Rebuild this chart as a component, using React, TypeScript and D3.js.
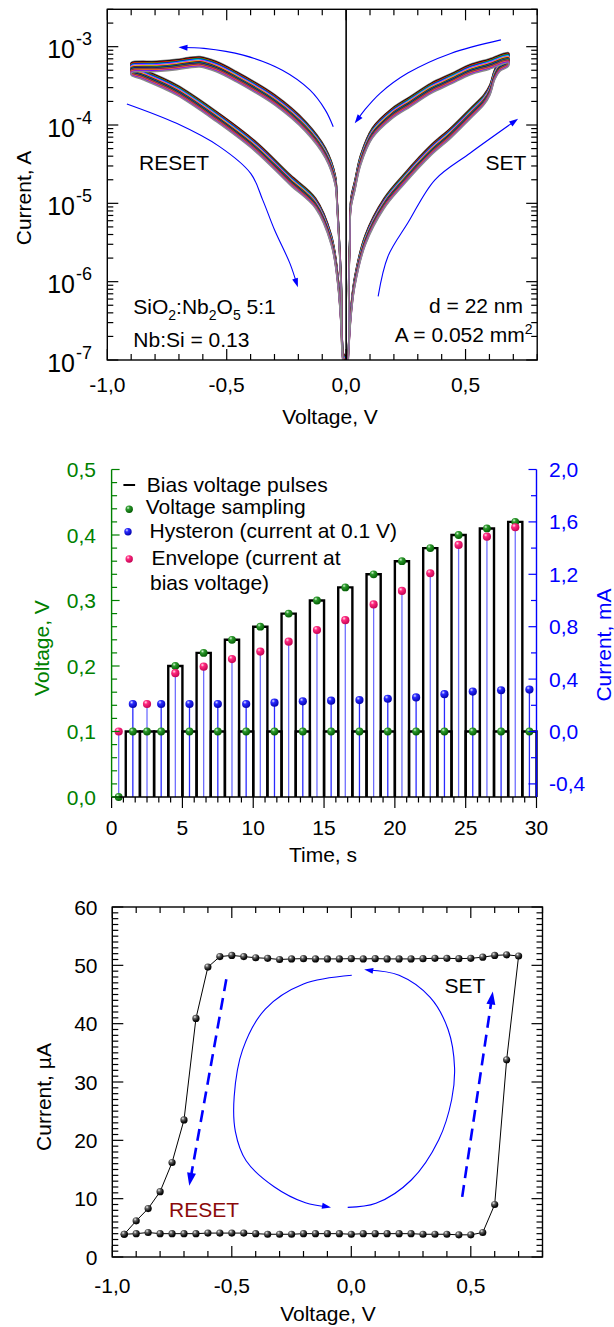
import React from 'react';
import * as d3 from 'd3';

const FONT = '"Liberation Sans", Arial, Helvetica, sans-serif';

// ---------------- Panel 1: resistive switching I–V loops (log current) ----------------
const setLowV = [0.008, 0.02, 0.036, 0.08, 0.159, 0.24, 0.356, 0.438, 0.52, 0.577, 0.602, 0.622, 0.643, 0.679];
const setLowI = [1e-7, 4e-7, 1e-6, 3.4e-6, 1e-5, 2e-5, 4.8e-5, 7.9e-5, 1.4e-4, 2.1e-4, 2.8e-4, 4.4e-4, 5.6e-4, 6.5e-4];
const setHighV = [0.679, 0.6, 0.52, 0.44, 0.356, 0.27, 0.192, 0.11, 0.061, 0.036, 0.02, 0.015, 0.011, 0.003];
const setHighI = [7.2e-4, 6.0e-4, 5.1e-4, 3.9e-4, 2.95e-4, 2.0e-4, 1.4e-4, 7.9e-5, 3.6e-5, 1.66e-5, 1e-5, 3e-6, 1e-6, 1e-7];
const resetHighV = [-0.008, -0.021, -0.038, -0.046, -0.087, -0.169, -0.3, -0.464, -0.546, -0.612, -0.661, -0.71, -0.792, -0.899];
const resetHighI = [1e-7, 1e-6, 1e-5, 2e-5, 4.4e-5, 9.5e-5, 2.1e-4, 4.2e-4, 5.6e-4, 6.4e-4, 6.2e-4, 5.9e-4, 5.6e-4, 5.4e-4];
const resetLowV = [-0.899, -0.85, -0.71, -0.546, -0.382, -0.235, -0.128, -0.062, -0.034, -0.013];
const resetLowI = [5.0e-4, 4.4e-4, 2.8e-4, 1.3e-4, 5.4e-5, 2e-5, 1e-5, 3.4e-6, 1e-6, 1e-7];
// estimated spread of the individual cycles around the mean loop
const cycleFactors = [1.17, 1.145, 1.12, 1.1, 1.08, 1.06, 1.04, 1.02, 1.0, 0.98, 0.96, 0.94, 0.92, 0.9, 0.88, 0.86];
const cycleColors = ['#7f7f7f', '#000000', '#ff0000', '#00b000', '#0000ff', '#00e0e0', '#ff00ff', '#e0e000',
  '#800000', '#008080', '#000080', '#808000', '#800080', '#ff8000', '#8000ff', '#8a8a8a'];
const p1XTicks = [-1, -0.5, 0, 0.5];
const p1XTickLabels = ['-1,0', '-0,5', '0,0', '0,5'];
const p1YDecades = [-7, -6, -5, -4, -3];
// annotation arrows (V, I)
const arrTopLeftV = [-0.054, -0.087, -0.152, -0.267, -0.431, -0.595, -0.702];
const arrTopLeftI = [9.5e-5, 1.55e-4, 2.8e-4, 5.0e-4, 7.8e-4, 9.5e-4, 9.8e-4];
const arrTopRightV = [0.648, 0.438, 0.258, 0.142, 0.077, 0.036];
const arrTopRightI = [1.22e-3, 8.2e-4, 4.6e-4, 2.54e-4, 1.55e-4, 1.05e-4];
const arrBotLeftV = [-0.918, -0.71, -0.53, -0.399, -0.349, -0.3, -0.235, -0.202];
const arrBotLeftI = [1.86e-4, 1.05e-4, 5.3e-5, 2.4e-5, 1.1e-5, 4.6e-6, 1.7e-6, 8.5e-7];
const arrBotRightV = [0.134, 0.175, 0.258, 0.372, 0.52, 0.72];
const arrBotRightI = [6.5e-7, 2.1e-6, 5.6e-6, 2.0e-5, 4.4e-5, 1.2e-4];

// ---------------- Panel 2: pulse programme ----------------
const sampleT = [0.5, 1.5, 2.5, 3.5, 4.5, 5.5, 6.5, 7.5, 8.5, 9.5, 10.5, 11.5, 12.5, 13.5, 14.5,
  15.5, 16.5, 17.5, 18.5, 19.5, 20.5, 21.5, 22.5, 23.5, 24.5, 25.5, 26.5, 27.5, 28.5, 29.5];
const sampleV = [0, 0.1, 0.1, 0.1, 0.2, 0.1, 0.22, 0.1, 0.24, 0.1, 0.26, 0.1, 0.28, 0.1, 0.3,
  0.1, 0.32, 0.1, 0.34, 0.1, 0.36, 0.1, 0.38, 0.1, 0.4, 0.1, 0.41, 0.1, 0.42, 0.1];
const hysteronT = [1.5, 3.5, 5.5, 7.5, 9.5, 11.5, 13.5, 15.5, 17.5, 19.5, 21.5, 23.5, 25.5, 27.5, 29.5];
const hysteronI = [0.21, 0.21, 0.21, 0.21, 0.21, 0.22, 0.23, 0.235, 0.24, 0.25, 0.26, 0.285, 0.305, 0.315, 0.32];
const envelopeT = [0.5, 2.5, 4.5, 6.5, 8.5, 10.5, 12.5, 14.5, 16.5, 18.5, 20.5, 22.5, 24.5, 26.5, 28.5];
const envelopeI = [0.0, 0.21, 0.445, 0.495, 0.553, 0.61, 0.686, 0.775, 0.85, 0.97, 1.073, 1.208, 1.424, 1.487, 1.559];
const p2XTicks = [0, 5, 10, 15, 20, 25, 30];
const p2VTicks = [0, 0.1, 0.2, 0.3, 0.4, 0.5];
const p2VTickLabels = ['0,0', '0,1', '0,2', '0,3', '0,4', '0,5'];
const p2ITicks = [-0.4, 0, 0.4, 0.8, 1.2, 1.6, 2.0];
const p2ITickLabels = ['-0,4', '0,0', '0,4', '0,8', '1,2', '1,6', '2,0'];

// ---------------- Panel 3: hysteron loop ----------------
const loopV = [-0.95, -0.9, -0.85, -0.8, -0.75, -0.7, -0.65, -0.6, -0.55, -0.5, -0.45, -0.4, -0.35, -0.3, -0.25,
  -0.2, -0.15, -0.1, -0.05, 0, 0.05, 0.1, 0.15, 0.2, 0.25, 0.3, 0.35, 0.4, 0.45, 0.5,
  0.55, 0.6, 0.65, 0.7,
  0.65, 0.6, 0.55, 0.5, 0.45, 0.4, 0.35, 0.3, 0.25, 0.2, 0.15, 0.1, 0.05, 0, -0.05, -0.1, -0.15, -0.2, -0.25,
  -0.3, -0.35, -0.4, -0.45, -0.5, -0.55,
  -0.6, -0.65, -0.7, -0.75, -0.8, -0.85, -0.9, -0.95];
const loopI = [3.9, 4.0, 4.2, 4.0, 4.0, 4.0, 4.0, 4.1, 4.1, 4.1, 4.1, 4.0, 3.9, 3.9, 3.9,
  4.0, 4.0, 4.0, 4.0, 3.9, 4.0, 4.0, 4.0, 4.0, 4.0, 3.9, 3.9, 3.9, 3.8, 3.8,
  4.2, 9.0, 33.8, 51.6,
  51.8, 51.7, 51.4, 51.2, 51.15, 51.2, 51.2, 51.15, 51.1, 51.1, 51.1, 51.15, 51.1, 51.15, 51.1, 51.1, 51.1, 51.15, 51.1,
  51.0, 51.2, 51.3, 51.5, 51.7, 51.5,
  49.7, 40.9, 23.5, 16.2, 11.2, 8.3, 6.2, 3.9];
const p3XTicks = [-1, -0.5, 0, 0.5];
const p3XTickLabels = ['-1,0', '-0,5', '0,0', '0,5'];
const p3YTicks = [0, 10, 20, 30, 40, 50, 60];
const dashLeftV = [-0.523, -0.678];
const dashLeftI = [47.6, 12.2];
const dashRightV = [0.464, 0.592];
const dashRightI = [10.3, 45.5];
const loopArrLV = [0.002, -0.2, -0.36, -0.455, -0.49, -0.485, -0.44, -0.323, -0.192, -0.085];
const loopArrLI = [48.3, 46.8, 42.5, 35.5, 27.5, 21.5, 16.5, 12.05, 9.3, 8.5];
const loopArrRV = [-0.015, 0.103, 0.251, 0.366, 0.42, 0.432, 0.405, 0.33, 0.2, 0.054];
const loopArrRI = [8.5, 9.2, 13.2, 20.1, 27.0, 32.5, 39.0, 44.5, 48.3, 49.3];

// ---------------- scales ----------------
const P1 = { l: 107.3, r: 537.2, t: 9.3, b: 360 };
const P2 = { l: 111.6, r: 536.5, t: 469.5, b: 797 };
const P3 = { l: 112.3, r: 542.5, t: 907, b: 1257 };

const x1 = d3.scaleLinear().domain([-1, 0.8]).range([P1.l, P1.r]);
const y1 = d3.scaleLog().domain([1e-7, 3e-3]).range([P1.b, P1.t]);
const x2 = d3.scaleLinear().domain([0, 30]).range([P2.l, P2.r]);
const yV = d3.scaleLinear().domain([0, 0.5]).range([P2.b, P2.t]);
const yI = d3.scaleLinear().domain([-0.5, 2.0]).range([P2.b, P2.t]);
const x3 = d3.scaleLinear().domain([-1, 0.8]).range([P3.l, P3.r]);
const y3 = d3.scaleLinear().domain([0, 60]).range([P3.b, P3.t]);

const BLUE = '#0000ff';
const GREEN = '#008000';

type Pt = [number, number];

function Arrow({ pts, color, width, head, dash, curve = true }:
  { pts: Pt[]; color: string; width: number; head: [number, number]; dash?: string; curve?: boolean }) {
  const n = pts.length;
  const [xa, ya] = pts[n - 2];
  const [xb, yb] = pts[n - 1];
  const ang = Math.atan2(yb - ya, xb - xa);
  const [L, W] = head;
  const bx = xb - L * Math.cos(ang);
  const by = yb - L * Math.sin(ang);
  const h1: Pt = [bx + W * Math.sin(ang), by - W * Math.cos(ang)];
  const h2: Pt = [bx - W * Math.sin(ang), by + W * Math.cos(ang)];
  const shaft: Pt[] = pts.slice(0, n - 1).concat([[bx + 0.6 * L * Math.cos(ang), by + 0.6 * L * Math.sin(ang)]]);
  const line = d3.line<Pt>().curve(curve ? d3.curveCatmullRom.alpha(0.5) : d3.curveLinear);
  return (
    <g>
      <path d={line(shaft) || ''} fill="none" stroke={color} strokeWidth={width} strokeDasharray={dash} />
      <polygon points={`${xb},${yb} ${h1[0]},${h1[1]} ${h2[0]},${h2[1]}`} fill={color} />
    </g>
  );
}

function Sphere({ cx, cy, r, grad }: { cx: number; cy: number; r: number; grad: string }) {
  return <circle cx={cx} cy={cy} r={r} fill={`url(#${grad})`} />;
}

function Panel1() {
  const lines: JSX.Element[] = [];
  const allV = setLowV.concat(setHighV, resetHighV, resetLowV);
  const allI = setLowI.concat(setHighI, resetHighI, resetLowI);
  const line = d3.line<Pt>().curve(d3.curveCatmullRom.alpha(0.5));
  cycleFactors.forEach((f, c) => {
    const pts: Pt[] = allV.map((v, i) => [x1(v), y1(Math.max(allI[i] * f, 1e-8))]);
    lines.push(<path key={c} d={line(pts) || ''} fill="none" stroke={cycleColors[c]} strokeWidth={1.5} />);
  });

  const ticks: JSX.Element[] = [];
  for (let k = -10; k <= 8; k++) {
    const v = k / 10;
    const major = k % 5 === 0;
    const len = major ? 11 : 6;
    const xx = x1(v);
    ticks.push(<line key={'xb' + k} x1={xx} x2={xx} y1={P1.b} y2={P1.b - len} stroke="#000" strokeWidth={1.2} />);
    ticks.push(<line key={'xt' + k} x1={xx} x2={xx} y1={P1.t} y2={P1.t + len} stroke="#000" strokeWidth={1.2} />);
  }
  p1YDecades.forEach((d) => {
    for (let m = 1; m <= 9; m++) {
      const val = m * Math.pow(10, d);
      if (val > 3e-3) continue;
      const len = m === 1 ? 11 : 6;
      const yy = y1(val);
      ticks.push(<line key={`yl${d}${m}`} x1={P1.l} x2={P1.l + len} y1={yy} y2={yy} stroke="#000" strokeWidth={1.2} />);
      ticks.push(<line key={`yr${d}${m}`} x1={P1.r} x2={P1.r - len} y1={yy} y2={yy} stroke="#000" strokeWidth={1.2} />);
    }
  });

  const mk = (V: number[], I: number[]): Pt[] => V.map((v, i) => [x1(v), y1(I[i])]);

  return (
    <g fontFamily={FONT}>
      <defs>
        <clipPath id="clip1"><rect x={P1.l} y={P1.t} width={P1.r - P1.l} height={P1.b - P1.t} /></clipPath>
      </defs>
      <g clipPath="url(#clip1)">{lines}</g>
      <line x1={x1(0)} x2={x1(0)} y1={P1.t} y2={P1.b} stroke="#000" strokeWidth={1.6} />
      <Arrow pts={mk(arrTopLeftV, arrTopLeftI)} color={BLUE} width={1.1} head={[9, 3]} />
      <Arrow pts={mk(arrTopRightV, arrTopRightI)} color={BLUE} width={1.1} head={[9, 3]} />
      <Arrow pts={mk(arrBotLeftV, arrBotLeftI)} color={BLUE} width={1.1} head={[9, 3]} />
      <Arrow pts={mk(arrBotRightV, arrBotRightI)} color={BLUE} width={1.1} head={[9, 3]} />
      <rect x={P1.l} y={P1.t} width={P1.r - P1.l} height={P1.b - P1.t} fill="none" stroke="#000" strokeWidth={1.4} />
      {ticks}
      {p1YDecades.map((d) => (
        <g key={'yl' + d}>
          <text x={75} y={y1(Math.pow(10, d)) + 11.5} fontSize={25} textAnchor="end">10</text>
          <text x={76} y={y1(Math.pow(10, d)) - 1.5} fontSize={18}>{'-' + Math.abs(d)}</text>
        </g>
      ))}
      {p1XTicks.map((v, i) => (
        <text key={'xl' + i} x={x1(v)} y={P1.b + 31.5} fontSize={21} textAnchor="middle">{p1XTickLabels[i]}</text>
      ))}
      <text x={330} y={424} fontSize={21} textAnchor="middle">Voltage, V</text>
      <text transform={`translate(31,198) rotate(-90)`} fontSize={21} textAnchor="middle">Current, A</text>
      <text x={139} y={170} fontSize={21}>RESET</text>
      <text x={485.5} y={170} fontSize={21}>SET</text>
      <text x={133.3} y={313.5} fontSize={21}>
        SiO<tspan fontSize={14} dy={6}>2</tspan><tspan dy={-6}>:Nb</tspan><tspan fontSize={14} dy={6}>2</tspan>
        <tspan dy={-6}>O</tspan><tspan fontSize={14} dy={6}>5</tspan><tspan dy={-6}>{' 5:1'}</tspan>
      </text>
      <text x={133.3} y={347} fontSize={21}>Nb:Si = 0.13</text>
      <text x={523} y={312.7} fontSize={21} textAnchor="end">d = 22 nm</text>
      <text x={532.6} y={341.7} fontSize={21} textAnchor="end">
        A = 0.052 mm<tspan fontSize={14} dy={-8}>2</tspan>
      </text>
    </g>
  );
}

function Panel2() {
  const pulseLine = d3.line<Pt>();
  const pulses = sampleT.map((t, i) => {
    const v = sampleV[i];
    if (v <= 0) return null;
    const t0 = t - 0.5;
    const t1 = t + 0.5;
    const pts: Pt[] = [[x2(t0), yV(0)], [x2(t0), yV(v)], [x2(t1), yV(v)], [x2(t1), yV(0)]];
    return <path key={'p' + i} d={pulseLine(pts) || ''} fill="none" stroke="#000" strokeWidth={2.4} />;
  });
  const ticks: JSX.Element[] = [];
  for (let k = 0; k <= 36; k++) {
    const t = (k * 5) / 6;
    const major = k % 6 === 0;
    ticks.push(<line key={'bx' + k} x1={x2(t)} x2={x2(t)} y1={P2.b} y2={P2.b + (major ? 11 : 5.5)} stroke="#000" strokeWidth={1.2} />);
  }
  for (let k = 0; k <= 25; k++) {
    const v = k * 0.02;
    const major = k % 5 === 0;
    ticks.push(<line key={'lv' + k} x1={P2.l} x2={P2.l + (major ? 8 : 5.5)} y1={yV(v)} y2={yV(v)} stroke={GREEN} strokeWidth={1.2} />);
  }
  for (let k = -2; k <= 10; k++) {
    const v = k * 0.2;
    const major = k % 2 === 0;
    ticks.push(<line key={'ri' + k} x1={P2.r} x2={P2.r - (major ? 8 : 5.5)} y1={yI(v)} y2={yI(v)} stroke={BLUE} strokeWidth={1.2} />);
  }
  return (
    <g fontFamily={FONT}>
      {pulses}
      {hysteronT.map((t, i) => (
        <line key={'hs' + i} x1={x2(t)} x2={x2(t)} y1={yI(hysteronI[i])} y2={P2.b} stroke="#2a2aff" strokeWidth={1.3} />
      ))}
      {envelopeT.map((t, i) => (
        <line key={'es' + i} x1={x2(t)} x2={x2(t)} y1={yI(envelopeI[i])} y2={P2.b} stroke="#6f6fff" strokeWidth={1.3} />
      ))}
      {sampleT.map((t, i) => <Sphere key={'g' + i} cx={x2(t)} cy={yV(sampleV[i])} r={3.9} grad="sg" />)}
      {hysteronT.map((t, i) => <Sphere key={'b' + i} cx={x2(t)} cy={yI(hysteronI[i])} r={4.1} grad="sb" />)}
      {envelopeT.map((t, i) => <Sphere key={'e' + i} cx={x2(t)} cy={yI(envelopeI[i])} r={4.1} grad="sp" />)}
      <line x1={P2.l} x2={P2.r} y1={P2.b} y2={P2.b} stroke="#000" strokeWidth={1.4} />
      <line x1={P2.l} x2={P2.l} y1={P2.t} y2={P2.b} stroke={GREEN} strokeWidth={1.4} />
      <line x1={P2.r} x2={P2.r} y1={P2.t} y2={P2.b} stroke={BLUE} strokeWidth={1.4} />
      {ticks}
      {p2VTicks.map((v, i) => (
        <text key={'vl' + i} x={96} y={yV(v) + 7.5} fontSize={21} textAnchor="end" fill={GREEN}>{p2VTickLabels[i]}</text>
      ))}
      {p2ITicks.map((v, i) => (
        <text key={'il' + i} x={549} y={yI(v) + 7.5} fontSize={21} fill={BLUE}>{p2ITickLabels[i]}</text>
      ))}
      {p2XTicks.map((t) => (
        <text key={'tl' + t} x={x2(t)} y={835} fontSize={21} textAnchor="middle">{t}</text>
      ))}
      <text x={323} y={862} fontSize={21} textAnchor="middle">Time, s</text>
      <text transform="translate(49,648) rotate(-90)" fontSize={21} textAnchor="middle" fill={GREEN}>Voltage, V</text>
      <text transform="translate(611,645) rotate(-90)" fontSize={21} textAnchor="middle" fill={BLUE}>Current, mA</text>
      <line x1={123.4} x2={135.1} y1={485} y2={485} stroke="#000" strokeWidth={2} />
      <text x={146.8} y={492} fontSize={21}>Bias voltage pulses</text>
      <Sphere cx={129.2} cy={509.3} r={3.7} grad="sg" />
      <text x={145.7} y={513.5} fontSize={21}>Voltage sampling</text>
      <Sphere cx={128} cy={531.7} r={3.7} grad="sb" />
      <text x={149.6} y={538} fontSize={21}>Hysteron (current at 0.1 V)</text>
      <Sphere cx={129.2} cy={559} r={3.7} grad="sp" />
      <text x={151.5} y={565} fontSize={21}>Envelope (current at</text>
      <text x={150} y={590} fontSize={21}>bias voltage)</text>
    </g>
  );
}

function Panel3() {
  const pts: Pt[] = loopV.map((v, i) => [x3(v), y3(loopI[i])]);
  const line = d3.line<Pt>();
  const ticks: JSX.Element[] = [];
  for (let k = -10; k <= 8; k++) {
    const v = k / 10;
    const major = k % 5 === 0;
    const len = major ? 11 : 6;
    const xx = x3(v);
    ticks.push(<line key={'xb' + k} x1={xx} x2={xx} y1={P3.b} y2={P3.b - len} stroke="#000" strokeWidth={1.2} />);
    ticks.push(<line key={'xt' + k} x1={xx} x2={xx} y1={P3.t} y2={P3.t + len} stroke="#000" strokeWidth={1.2} />);
  }
  for (let k = 0; k <= 60; k++) {
    const major = k % 10 === 0;
    const len = major ? 11 : 6;
    const yy = y3(k);
    ticks.push(<line key={'yl' + k} x1={P3.l} x2={P3.l + len} y1={yy} y2={yy} stroke="#000" strokeWidth={1.2} />);
    ticks.push(<line key={'yr' + k} x1={P3.r} x2={P3.r - len} y1={yy} y2={yy} stroke="#000" strokeWidth={1.2} />);
  }
  const mk = (V: number[], I: number[]): Pt[] => V.map((v, i) => [x3(v), y3(I[i])]);
  return (
    <g fontFamily={FONT}>
      <path d={line(pts) || ''} fill="none" stroke="#000" strokeWidth={1} />
      {pts.map((p, i) => <Sphere key={'m' + i} cx={p[0]} cy={p[1]} r={3.6} grad="sk" />)}
      <Arrow pts={mk(dashLeftV, dashLeftI)} color={BLUE} width={2.6} head={[13, 4.5]} dash="12,7" curve={false} />
      <Arrow pts={mk(dashRightV, dashRightI)} color={BLUE} width={2.6} head={[13, 4.5]} dash="12,7" curve={false} />
      <Arrow pts={mk(loopArrLV, loopArrLI)} color={BLUE} width={1.1} head={[9, 3]} />
      <Arrow pts={mk(loopArrRV, loopArrRI)} color={BLUE} width={1.1} head={[9, 3]} />
      <rect x={P3.l} y={P3.t} width={P3.r - P3.l} height={P3.b - P3.t} fill="none" stroke="#000" strokeWidth={1.4} />
      {ticks}
      {p3YTicks.map((v) => (
        <text key={'yl' + v} x={97.5} y={y3(v) + 7.5} fontSize={21} textAnchor="end">{v}</text>
      ))}
      {p3XTicks.map((v, i) => (
        <text key={'xl' + i} x={x3(v)} y={1292.5} fontSize={21} textAnchor="middle">{p3XTickLabels[i]}</text>
      ))}
      <text x={328} y={1321} fontSize={21} textAnchor="middle">Voltage, V</text>
      <text transform="translate(51,1097) rotate(-90)" fontSize={21} textAnchor="middle">Current, µA</text>
      <text x={444.5} y={993.3} fontSize={21}>SET</text>
      <text x={169} y={1216.7} fontSize={21} fill="#8b0a0a">RESET</text>
    </g>
  );
}

export default function App() {
  return (
    <svg width={614} height={1327} viewBox="0 0 614 1327"
      style={{ position: 'absolute', left: 0, top: 0, display: 'block', background: '#fff' }}>
      <defs>
        <radialGradient id="sk" cx="0.35" cy="0.3" r="0.75">
          <stop offset="0" stopColor="#f0f0f0" />
          <stop offset="0.3" stopColor="#606060" />
          <stop offset="0.7" stopColor="#111" />
          <stop offset="1" stopColor="#000" />
        </radialGradient>
        <radialGradient id="sg" cx="0.35" cy="0.3" r="0.75">
          <stop offset="0" stopColor="#d8f5d8" />
          <stop offset="0.3" stopColor="#2c9a2c" />
          <stop offset="1" stopColor="#005800" />
        </radialGradient>
        <radialGradient id="sb" cx="0.35" cy="0.3" r="0.75">
          <stop offset="0" stopColor="#e0e0ff" />
          <stop offset="0.3" stopColor="#2a2aff" />
          <stop offset="1" stopColor="#0000a8" />
        </radialGradient>
        <radialGradient id="sp" cx="0.35" cy="0.3" r="0.75">
          <stop offset="0" stopColor="#ffe0ee" />
          <stop offset="0.3" stopColor="#ff2a7f" />
          <stop offset="1" stopColor="#c00050" />
        </radialGradient>
      </defs>
      <rect x={0} y={0} width={614} height={1327} fill="#fff" />
      <Panel1 />
      <Panel2 />
      <Panel3 />
    </svg>
  );
}
